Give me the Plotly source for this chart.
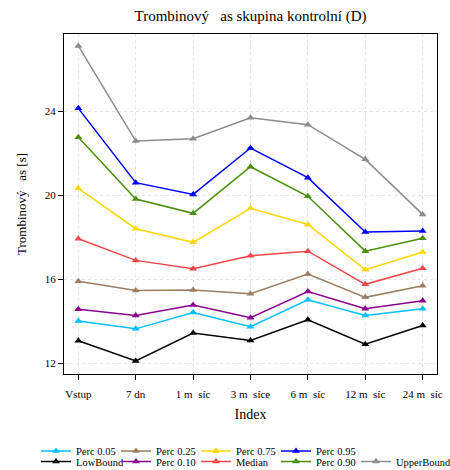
import plotly.graph_objects as go

# timepoints on the x axis
labels = ["Vstup", "7 dn", "1 m  síc", "3 m  síce", "6 m  síc", "12 m  síc", "24 m  síc"]

# series values
low_bound = [13.06, 12.10, 13.43, 13.08, 14.06, 12.90, 13.79]
perc_05 = [14.00, 13.63, 14.41, 13.73, 15.01, 14.27, 14.59]
perc_10 = [14.56, 14.27, 14.76, 14.16, 15.41, 14.59, 14.97]
perc_25 = [15.90, 15.46, 15.48, 15.30, 16.24, 15.13, 15.68]
median = [17.92, 16.89, 16.49, 17.11, 17.33, 15.75, 16.52]
perc_75 = [20.32, 18.40, 17.75, 19.37, 18.60, 16.44, 17.29]
perc_90 = [22.75, 19.81, 19.13, 21.35, 19.94, 17.33, 17.94]
perc_95 = [24.13, 20.59, 20.03, 22.24, 20.83, 18.24, 18.29]
upper_bound = [27.10, 22.57, 22.68, 23.68, 23.35, 21.70, 19.08]

# (name, values, colour, legend box)
series = [
    ("Perc 0.05", perc_05, "#00BFFF", "legend"),
    ("Perc 0.25", perc_25, "#9C7F62", "legend"),
    ("Perc 0.75", perc_75, "#FFD700", "legend"),
    ("Perc 0.95", perc_95, "#0000FF", "legend"),
    ("LowBound", low_bound, "#000000", "legend2"),
    ("Perc 0.10", perc_10, "#8B008B", "legend2"),
    ("Median", median, "#F04848", "legend2"),
    ("Perc 0.90", perc_90, "#4A8F0A", "legend2"),
    ("UpperBound", upper_bound, "#8C8C8C", "legend3"),
]

font = "Liberation Serif"
x = list(range(len(labels)))

fig = go.Figure()
for name, vals, color, leg in series:
    fig.add_trace(
        go.Scatter(
            x=x,
            y=vals,
            mode="lines+markers",
            name=name,
            line=dict(color=color, width=1.5),
            marker=dict(symbol="triangle-up", size=7, color=color),
            legend=leg,
        )
    )

axis_common = dict(
    showline=True,
    linecolor="black",
    linewidth=1.2,
    mirror=True,
    ticks="outside",
    ticklen=5,
    tickcolor="black",
    showgrid=True,
    gridcolor="#E4E4E4",
    griddash="dot",
    gridwidth=1,
    zeroline=False,
    tickfont=dict(family=font, size=11, color="black"),
)

leg_common = dict(
    orientation="h",
    font=dict(family=font, size=10.5, color="black"),
    bgcolor="rgba(0,0,0,0)",
    entrywidth=35,
    itemwidth=30,
    xref="container",
    yref="container",
    x=36 / 450,
    xanchor="left",
    yanchor="middle",
    tracegroupgap=0,
)

row1 = 1 - 451 / 470
row2 = 1 - 461.5 / 470

fig.update_layout(
    width=450,
    height=470,
    paper_bgcolor="white",
    plot_bgcolor="white",
    margin=dict(l=64, r=13, t=34, b=96, autoexpand=False),
    title=dict(
        text="Trombinový   as skupina kontrolní (D)",
        font=dict(family=font, size=15, color="black"),
        x=0.5,
        xref="paper",
        xanchor="center",
        y=1 - 16 / 470,
        yanchor="middle",
    ),
    xaxis=dict(
        axis_common,
        tickvals=x,
        ticktext=labels,
        range=[-0.25, 6.25],
        ticklabelstandoff=5,
        title=dict(text="Index", font=dict(family=font, size=14, color="black"), standoff=9),
    ),
    yaxis=dict(
        axis_common,
        tickvals=[12, 16, 20, 24],
        range=[11.48, 27.67],
        title=dict(text="Trombinový   as [s]", font=dict(family=font, size=13, color="black"), standoff=15),
    ),
    legend=dict(leg_common, y=row1),
    legend2=dict(leg_common, y=row2),
    legend3=dict(leg_common, x=(36 + 320) / 450, y=row2, entrywidth=0),
)

# page body has a default 8px margin; drop it so the figure fills the window
fig.write_html(
    "out.html",
    config={"displayModeBar": False},
    post_script="document.body.style.margin='0';",
)
